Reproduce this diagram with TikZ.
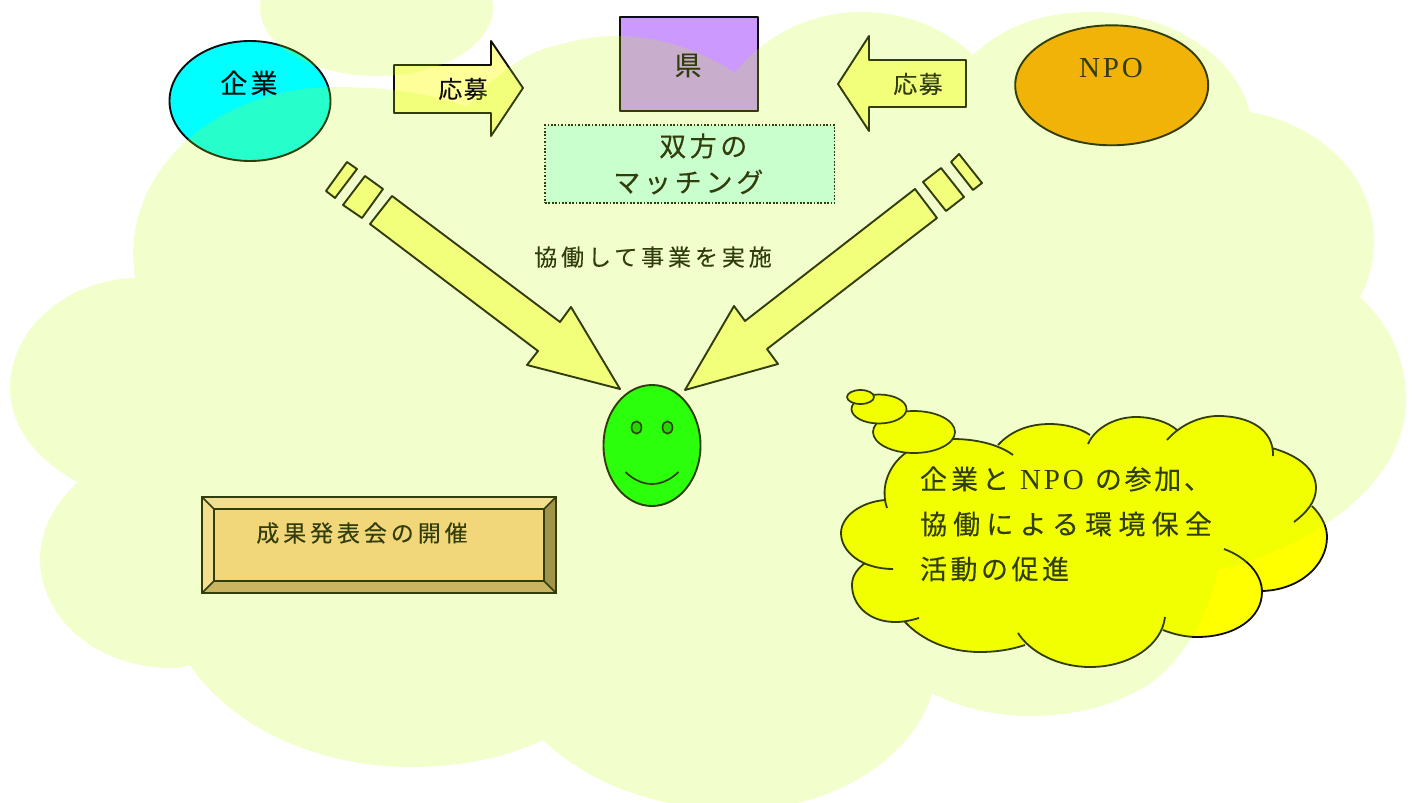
\documentclass[tikz,border=0pt]{standalone}
\usepackage{fontspec}
\usetikzlibrary{shapes.geometric}
\setmainfont{Noto Sans CJK JP}[FakeBold=0.12]
\newfontfamily\serifl{Liberation Serif}
\newcommand{\jt}[3]{{\fontsize{#1}{#1}\selectfont\addfontfeature{LetterSpace=#2}#3}}
\definecolor{cloudc}{RGB}{190,255,0}
\definecolor{paley}{RGB}{255,255,153}
\definecolor{tanbase}{RGB}{255,204,153}
\definecolor{tanlight}{RGB}{255,216,180}
\definecolor{tandark}{RGB}{204,163,122}
\definecolor{tandeep}{RGB}{153,122,92}
\definecolor{purp}{RGB}{204,153,255}
\definecolor{orng}{RGB}{255,160,12}
\definecolor{pale}{RGB}{204,255,255}
\definecolor{eyeg}{RGB}{0,204,0}
\definecolor{cyanrgb}{RGB}{0,255,255}
\definecolor{yellowrgb}{RGB}{255,255,0}
\definecolor{greenrgb}{RGB}{8,255,16}
\definecolor{ink}{RGB}{14,14,14}
\tikzset{
  shp/.style={draw=ink,line width=1.9pt,line join=round},
  txt/.style={inner sep=0pt,outer sep=0pt,text=ink},
}
\begin{document}
\begin{tikzpicture}[x=1pt,y=-1pt]
\useasboundingbox (0,0) rectangle (1414,803);
% company
\node[shp,ellipse,fill=cyanrgb,minimum width=161pt,minimum height=120pt,inner sep=0pt] (kigyo) at (250,101) {};
\node[txt] (kigyot) at (249,83) {\jt{27}{12}{企業}};
% entry arrows
\draw[shp,fill=paley] (394,65) -- (491,65) -- (491,41) -- (523,88) -- (491,136) -- (491,113) -- (394,113) -- cycle;
\node[txt] (oubo1) at (463,89) {\jt{24}{6}{応募}};
\draw[shp,fill=paley] (838,84) -- (869,36) -- (869,60) -- (966,60) -- (966,107) -- (869,107) -- (869,131) -- cycle;
\node[txt] (oubo2) at (918,84) {\jt{24}{6}{応募}};
% prefecture
\node[shp,fill=purp,rectangle,minimum width=138pt,minimum height=94pt,inner sep=0pt] (ken) at (689,64) {};
\node[txt] (kent) at (688,65.5) {\jt{27}{0}{県}};
% matching box
\node[draw=ink,line width=1.7pt,dash pattern=on 1.7pt off 1.7pt,fill=pale,rectangle,minimum width=289.5pt,minimum height=78pt,inner sep=0pt] (match) at (689.8,164) {};
\node[txt] (match1) at (703.3,146) {\jt{27}{13}{双方の}};
\node[txt] (match2) at (688.3,182) {\jt{27}{14}{マッチング}};
% NPO
\node[shp,ellipse,fill=orng,minimum width=193pt,minimum height=120pt,inner sep=0pt] (npo) at (1111.7,85.3) {};
\node[txt] (npot) at (1111,68) {\fontsize{29}{29}\selectfont\serifl\addfontfeature{LetterSpace=10}NPO};
% striped arrows
\draw[shp,fill=paley] (347,162) -- (357,169) -- (335,198) -- (326,191) -- cycle;
\draw[shp,fill=paley] (365,176) -- (383,189) -- (362,218) -- (343,205) -- cycle;
\draw[shp,fill=paley] (392,196) -- (560,322) -- (571,307) -- (620,389) -- (527,365) -- (538,351) -- (370,224) -- cycle;
\draw[shp,fill=paley] (959,154) -- (982,183) -- (973,190) -- (951,162) -- cycle;
\draw[shp,fill=paley] (941,168) -- (964,197) -- (946,211) -- (923,182) -- cycle;
\draw[shp,fill=paley] (915,189) -- (745,321) -- (734,306) -- (685,390) -- (778,364) -- (767,349) -- (937,218) -- cycle;
\node[txt] (kyodo) at (653,257) {\jt{23}{17}{協働して事業を実施}};
% smiley
\node[shp,ellipse,fill=greenrgb,minimum width=97pt,minimum height=121pt,inner sep=0pt] (face) at (652,445.5) {};
\node[shp,ellipse,fill=eyeg,minimum width=10pt,minimum height=12.5pt,inner sep=0pt,line width=1.6pt] (eyel) at (636.5,427.5) {};
\node[shp,ellipse,fill=eyeg,minimum width=10pt,minimum height=12.5pt,inner sep=0pt,line width=1.6pt] (eyer) at (667.5,427.5) {};
\draw[shp,line width=1.7pt] (625.5,472) .. controls (642,488) and (662,488) .. (678.5,472);
% bevel
\fill[tanlight] (202,497) -- (556,497) -- (544,509) -- (214,509) -- cycle;
\fill[tanlight] (202,497) -- (214,509) -- (214,581) -- (202,593) -- cycle;
\fill[tandark] (202,593) -- (214,581) -- (544,581) -- (556,593) -- cycle;
\fill[tandeep] (556,497) -- (556,593) -- (544,581) -- (544,509) -- cycle;
\node[draw=ink,line width=1.9pt,fill=tanbase,rectangle,minimum width=330pt,minimum height=72pt,inner sep=0pt] (bevin) at (379,545) {};
\draw[ink,line width=1.9pt,line join=miter] (202,497) rectangle (556,593);
\draw[ink,line width=1.7pt] (202,497) -- (214,509) (556,497) -- (544,509) (202,593) -- (214,581) (556,593) -- (544,581);
\node[txt] (seika) at (362,533) {\jt{23}{17}{成果発表会の開催}};
% callout
\def\lobeA{(887,508) .. controls (877,480) and (897,439) .. (953,439) .. controls (975,439) and (998,444) .. (1013,455)}
\def\lobeB{(998,445) .. controls (1012,430) and (1030,424) .. (1050,424) .. controls (1065,424) and (1080,428) .. (1090,435)}
\def\lobeC{(1088,444) .. controls (1095,428) and (1115,417) .. (1136,417) .. controls (1152,417) and (1168,422) .. (1177,430)}
\def\lobeD{(1167,440) .. controls (1180,425) and (1200,416) .. (1218,416) .. controls (1250,416) and (1274,430) .. (1273,456)}
\def\lobeE{(1272,448) .. controls (1300,456) and (1316,470) .. (1316,488) .. controls (1316,502) and (1306,513) .. (1294,522)}
\def\lobeF{(1312,506) .. controls (1322,516) and (1327,527) .. (1327,537) .. controls (1327,565) and (1300,590) .. (1262,591)}
\def\lobeG{(1224,549) .. controls (1248,558) and (1262,575) .. (1262,592) .. controls (1262,618) and (1235,637) .. (1197,637) .. controls (1185,637) and (1173,634) .. (1163,630)}
\def\lobeH{(1165,617) .. controls (1162,645) and (1130,667) .. (1090,667) .. controls (1058,667) and (1030,652) .. (1018,633)}
\def\lobeI{(1025,645) .. controls (1010,650) and (995,652) .. (980,652) .. controls (948,652) and (922,640) .. (905,622)}
\def\lobeJ{(919,618) .. controls (912,620) and (905,622) .. (895,622) .. controls (870,622) and (852,606) .. (852,585) .. controls (852,576) and (857,569) .. (865,563)}
\def\lobeK{(893,569) .. controls (862,569) and (841,552) .. (841,533) .. controls (841,517) and (860,502) .. (885,500)}
\fill[yellowrgb] \lobeA -- \lobeB -- \lobeC -- \lobeD -- \lobeE -- \lobeF -- \lobeG -- \lobeH -- \lobeI -- \lobeJ -- \lobeK -- cycle;
\draw[ink,line width=1.8pt] \lobeA \lobeB \lobeC \lobeD \lobeE \lobeF \lobeG \lobeH \lobeI \lobeJ \lobeK;
\node[shp,ellipse,fill=yellowrgb,minimum width=82pt,minimum height=42pt,inner sep=0pt,line width=1.7pt] (b3) at (914,432) {};
\node[shp,ellipse,fill=yellowrgb,minimum width=55pt,minimum height=29pt,inner sep=0pt,line width=1.7pt] (b2) at (879,409) {};
\node[shp,ellipse,fill=yellowrgb,minimum width=27pt,minimum height=14pt,inner sep=0pt,line width=1.7pt] (b1) at (860.5,397) {};
\node[txt,anchor=west] (c1) at (920,479) {\jt{27}{15}{企業と}\kern11pt{\fontsize{29}{29}\selectfont\serifl\addfontfeature{LetterSpace=10}NPO}\kern11pt\jt{27}{10}{の参加、}};
\node[txt,anchor=west] (c2) at (920,524) {\jt{27}{23}{協働による環境保全}};
\node[txt,anchor=west] (c3) at (920,569) {\jt{27}{13}{活動の促進}};
% translucent background cloud laid over everything
\fill[cloudc,opacity=0.2]
  (376.5,8) ellipse [x radius=116.5,y radius=68]
  (135,278) -- (133,255) .. controls (133,160) and (225,87) .. (335,87)
  .. controls (385,87) and (430,93) .. (467,107)
  .. controls (490,80) and (520,55) .. (550,47)
  .. controls (575,40) and (595,36) .. (615,36)
  .. controls (660,36) and (700,50) .. (735,73)
  .. controls (765,35) and (810,12) .. (862,12)
  .. controls (905,12) and (945,28) .. (973,55)
  .. controls (1005,25) and (1045,12) .. (1090,12)
  .. controls (1170,12) and (1235,55) .. (1250,112)
  .. controls (1320,125) and (1374,175) .. (1374,240)
  .. controls (1374,262) and (1369,280) .. (1360,297)
  .. controls (1390,325) and (1406,360) .. (1406,400)
  .. controls (1406,480) and (1320,545) .. (1218,570)
  .. controls (1210,610) and (1190,650) .. (1155,680)
  .. controls (1120,705) and (1075,716) .. (1030,716)
  .. controls (995,716) and (960,708) .. (932,693)
  .. controls (915,755) and (835,810) .. (740,810)
  .. controls (660,810) and (590,785) .. (543,740)
  .. controls (505,758) and (460,767) .. (410,767)
  .. controls (315,767) and (230,725) .. (190,665)
  .. controls (184,667) and (178,668) .. (172,668)
  .. controls (98,668) and (40,620) .. (40,558)
  .. controls (40,530) and (55,503) .. (78,482)
  .. controls (35,460) and (10,425) .. (10,388)
  .. controls (10,330) and (65,280) .. (135,278) -- cycle;
\end{tikzpicture}
\end{document}
